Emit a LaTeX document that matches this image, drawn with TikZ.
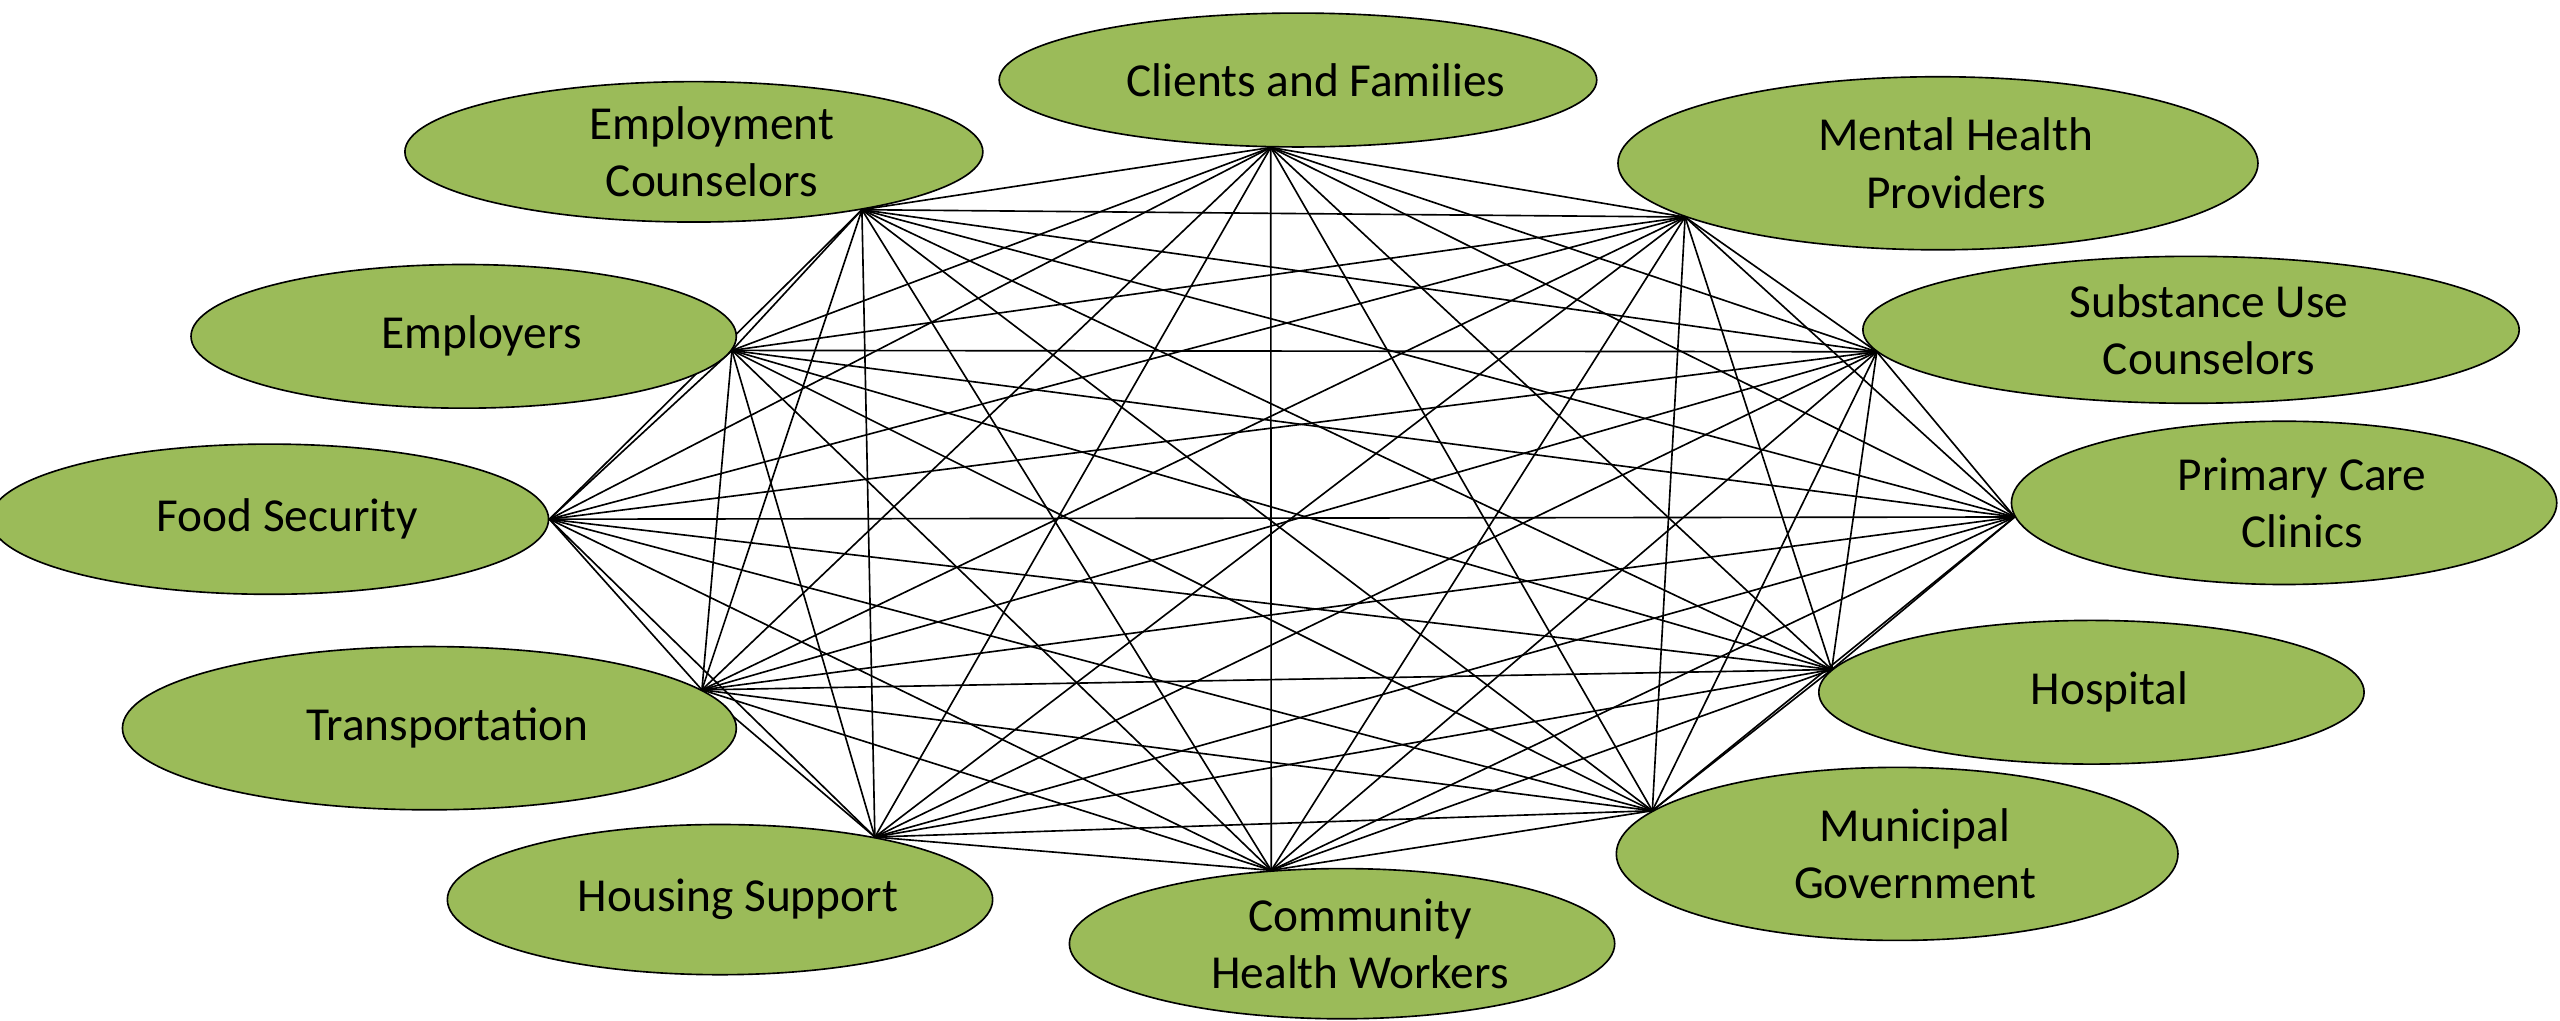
\documentclass[tikz,border=0pt]{standalone}
\usepackage{fontspec}
\setmainfont{Carlito}
\usetikzlibrary{shapes.geometric,backgrounds}
\definecolor{partnergreen}{HTML}{9BBB59}

\begin{document}
\begin{tikzpicture}[x=1pt, y=-1pt, font=\fontsize{29}{35}\selectfont,
    partner/.style={ellipse, draw=black, line width=1pt, fill=partnergreen, inner sep=0pt,
        label={[align=center, xshift=11pt]center:#1}},
    tie/.style={line width=1pt}]

        \useasboundingbox (0,0) rectangle (1568,625);

        % Partners
        \node[partner={Clients and Families}, minimum width=366pt, minimum height=82pt] (clients) at (795,49) {};
        \node[partner={Employment\\Counselors}, minimum width=354pt, minimum height=86pt] (empcoun) at (425,93) {};
        \node[partner={Mental Health\\Providers}, minimum width=392pt, minimum height=106pt] (mental) at (1187,100) {};
        \node[partner={Employers}, minimum width=334pt, minimum height=88pt] (employers) at (284,206) {};
        \node[partner={Substance Use\\Counselors}, minimum width=402pt, minimum height=90pt] (substance) at (1342,202) {};
        \node[partner={Food Security}, minimum width=342pt, minimum height=92pt] (food) at (165,318) {};
        \node[partner={Primary Care\\Clinics}, minimum width=334pt, minimum height=100pt] (primary) at (1399,308) {};
        \node[partner={Transportation}, minimum width=376pt, minimum height=100pt] (transport) at (263,446) {};
        \node[partner={Hospital}, minimum width=334pt, minimum height=88pt] (hospital) at (1281,424) {};
        \node[partner={Municipal\\Government}, minimum width=344pt, minimum height=106pt] (municipal) at (1162,523) {};
        \node[partner={Housing Support}, minimum width=334pt, minimum height=92pt] (housing) at (441,551) {};
        \node[partner={Community\\Health Workers}, minimum width=334pt, minimum height=92pt] (community) at (822,578) {};

        % Where the ties meet each partner
        \coordinate (clients-h) at (clients.-112);
        \coordinate (empcoun-h) at (empcoun.-19);
        \coordinate (mental-h) at (mental.-168);
        \coordinate (employers-h) at (employers.-3);
        \coordinate (substance-h) at (substance.-176);
        \coordinate (food-h) at (food.0);
        \coordinate (primary-h) at (primary.-177);
        \coordinate (transport-h) at (transport.8);
        \coordinate (hospital-h) at (hospital.175);
        \coordinate (municipal-h) at (municipal.170);
        \coordinate (housing-h) at (housing.22);
        \coordinate (community-h) at (community.134);

        % Ties, every partner to every other
        \begin{scope}[on background layer]
            \foreach \a [count=\i] in {clients,empcoun,mental,employers,substance,food,primary,transport,hospital,municipal,housing,community}
                \foreach \b [count=\j] in {clients,empcoun,mental,employers,substance,food,primary,transport,hospital,municipal,housing,community}
                    {\ifnum\j>\i \draw[tie] (\a-h) -- (\b-h); \fi}
        \end{scope}

    \end{tikzpicture}
\end{document}
